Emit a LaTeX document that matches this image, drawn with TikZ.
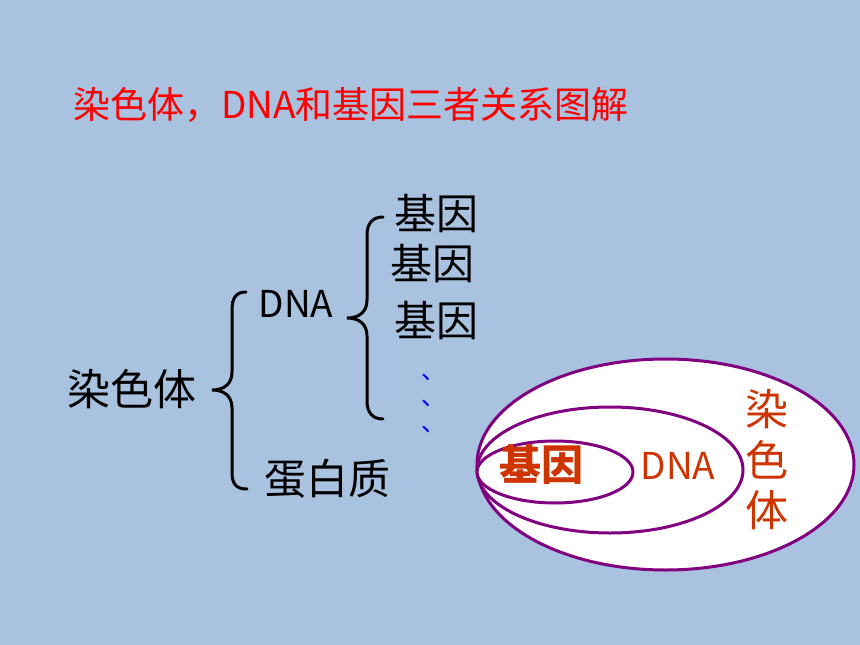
\documentclass[tikz,border=0pt]{standalone}
\usepackage{fontspec}
\newfontfamily\cjk{Noto Sans CJK SC}
\usetikzlibrary{shapes.geometric}
\definecolor{bgblue}{RGB}{168,194,223}
\definecolor{ovalline}{RGB}{128,0,128}
\definecolor{orred}{RGB}{206,52,0}
\tikzset{
  lbl/.style={inner sep=0pt, anchor=center, text=black, font=\cjk\fontsize{42}{46}\selectfont},
  dotmark/.style={inner sep=0pt, text=blue, font=\cjk\fontsize{24}{26}\selectfont},
  brace/.style={line width=3pt, black, line cap=round},
  oval/.style={ellipse, draw=ovalline, line width=3pt, fill=white, inner sep=0pt},
  redlbl/.style={inner sep=0pt, text=orred, font=\cjk\fontsize{43}{46}\selectfont},
}
\begin{document}
\begin{tikzpicture}[x=1pt,y=-1pt]
\fill[bgblue] (0,0) rectangle (860,645);
\useasboundingbox (0,0) rectangle (860,645);

% title
\node[inner sep=0pt, anchor=west, text={rgb,255:red,255;green,0;blue,0}, font=\cjk\fontsize{37}{41}\selectfont] (title) at (73,105) {染色体，DNA和基因三者关系图解};

% left tree
\node[lbl, font=\cjk\fontsize{43}{46}\selectfont] (chrom) at (132,389) {染色体};
\node[lbl, font=\cjk\fontsize{37}{40}\selectfont] (dna) at (296,304) {DNA};
\node[lbl] (prot) at (327,479) {蛋白质};
\node[lbl] (g1) at (436,214) {基因};
\node[lbl] (g2) at (432,264) {基因};
\node[lbl] (g3) at (436,321) {基因};
\node[dotmark] (d1) at (433,377) {、};
\node[dotmark] (d2) at (433,403) {、};
\node[dotmark] (d3) at (433,429) {、};

% braces
\draw[brace] (246,292) .. controls (236,292) and (232,298) .. (232,310) -- (232,372)
  .. controls (232,384) and (224,390) .. (212,390)
  .. controls (224,390) and (232,396) .. (232,408) -- (232,472)
  .. controls (232,484) and (236,489) .. (247,489);
\draw[brace] (383,217) .. controls (373,217) and (367,223) .. (367,235) -- (367,300)
  .. controls (367,312) and (359,318) .. (347,318)
  .. controls (359,318) and (367,324) .. (367,336) -- (367,401)
  .. controls (367,413) and (373,419) .. (383,419);

% nested ovals
\node[oval, minimum width=377pt, minimum height=211pt] (outer) at (665.5,464.5) {};
\node[oval, minimum width=266pt, minimum height=126pt] (middle) at (610,470) {};
\node[oval, minimum width=156pt, minimum height=62pt] (inner) at (555,472) {};

\node[inner sep=0pt, text=orred, font=\cjk\bfseries\fontsize{42}{46}\selectfont] (gene) at (541,465) {基因};
\node[inner sep=0pt, text=orred, font=\cjk\fontsize{37}{40}\selectfont] (dnar) at (678,466) {DNA};
\node[redlbl] (chr1) at (767,409) {染};
\node[redlbl] (chr2) at (767,460) {色};
\node[redlbl] (chr3) at (767,510) {体};
\end{tikzpicture}
\end{document}
